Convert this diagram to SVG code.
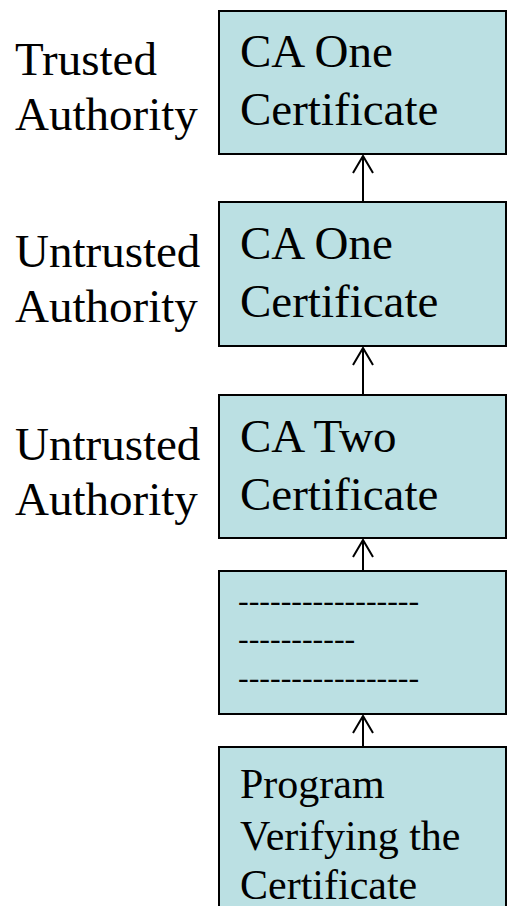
<svg xmlns="http://www.w3.org/2000/svg" width="507" height="906" viewBox="0 0 507 906">
  <style>
    .box { fill: #BBE0E3; stroke: #000; stroke-width: 2; }
    .t { font-family: "Liberation Serif", "Times New Roman", serif; fill: #000; }
    .big { font-size: 47px; }
    .mid { font-size: 42px; }
    .dash { font-size: 32px; }
    .conn { stroke: #000; stroke-width: 2; fill: none; }
  </style>
  <defs>
    <!-- open V arrowhead, drawn along +x so orient="auto" points it along the line -->
    <marker id="head" viewBox="0 0 20 22" refX="18" refY="11" markerWidth="20" markerHeight="22" markerUnits="userSpaceOnUse" orient="auto">
      <path d="M1 1 L18 11 L1 21" fill="none" stroke="#000" stroke-width="2"/>
    </marker>
  </defs>

  <!-- side labels -->
  <g id="label-trusted">
    <text class="t big" x="15" y="75">Trusted</text>
    <text class="t big" x="15" y="130">Authority</text>
  </g>
  <g id="label-untrusted-1">
    <text class="t big" x="15" y="267">Untrusted</text>
    <text class="t big" x="15" y="322">Authority</text>
  </g>
  <g id="label-untrusted-2">
    <text class="t big" x="15" y="460">Untrusted</text>
    <text class="t big" x="15" y="515">Authority</text>
  </g>

  <!-- certificate chain -->
  <g id="ca-one-root">
    <rect class="box" x="219" y="11" width="287" height="143"/>
    <text class="t big" x="240" y="67">CA One</text>
    <text class="t big" x="240" y="125">Certificate</text>
  </g>
  <g id="ca-one">
    <rect class="box" x="219" y="202" width="287" height="144"/>
    <text class="t big" x="240" y="259">CA One</text>
    <text class="t big" x="240" y="317">Certificate</text>
  </g>
  <g id="ca-two">
    <rect class="box" x="219" y="395" width="287" height="143"/>
    <text class="t big" x="240" y="452">CA Two</text>
    <text class="t big" x="240" y="510">Certificate</text>
  </g>
  <g id="leaf">
    <rect class="box" x="219" y="571" width="287" height="143"/>
    <text class="t dash" x="238" y="611">-----------------</text>
    <text class="t dash" x="238" y="649">-----------</text>
    <text class="t dash" x="238" y="688">-----------------</text>
  </g>
  <g id="verifier">
    <rect class="box" x="219" y="747" width="287" height="180"/>
    <text class="t mid" x="240" y="798">Program</text>
    <text class="t mid" x="240" y="850">Verifying the</text>
    <text class="t mid" x="240" y="899">Certificate</text>
  </g>

  <!-- connectors -->
  <g id="connectors">
    <line class="conn" x1="363" y1="202" x2="363" y2="156" marker-end="url(#head)"/>
    <line class="conn" x1="363" y1="395" x2="363" y2="348" marker-end="url(#head)"/>
    <line class="conn" x1="363" y1="571" x2="363" y2="540" marker-end="url(#head)"/>
    <line class="conn" x1="363" y1="747" x2="363" y2="716" marker-end="url(#head)"/>
  </g>
</svg>
